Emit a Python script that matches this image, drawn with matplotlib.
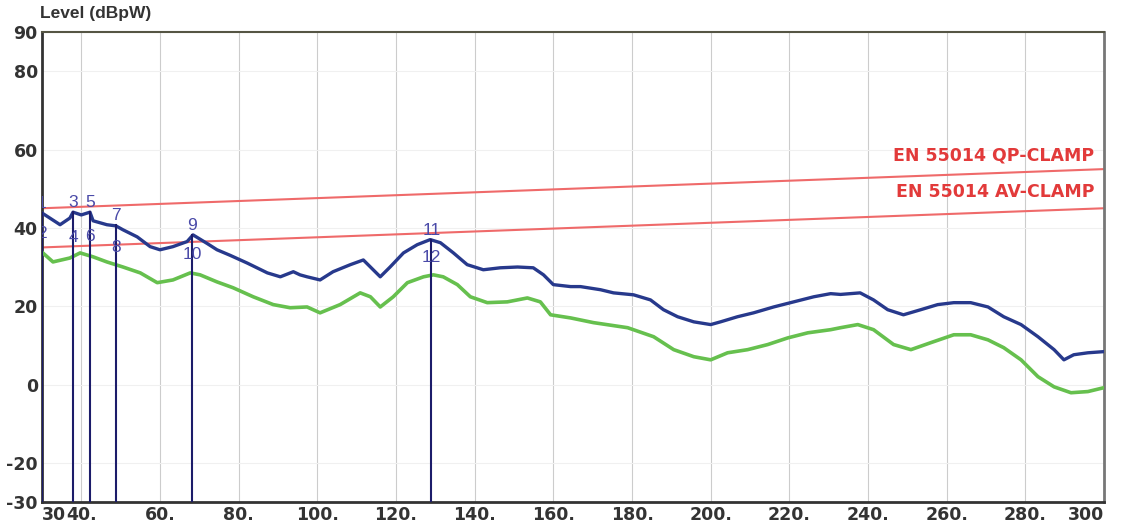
import matplotlib
matplotlib.use("Agg")
import matplotlib.pyplot as plt

plt.rcParams['font.family'] = ['Liberation Sans', 'DejaVu Sans']

# QP trace (blue)
qp_freq = [30, 32, 34.6, 37.1, 37.9, 40, 42.2, 43, 46.5, 48.8, 50.6, 54.2, 57.5, 60,
           63.3, 66.9, 68.4, 72, 74.5, 77.8, 82.2, 87.3, 90.6, 93.9, 95.6, 97.4,
           100.7, 104, 108.4, 111.7, 113.5, 116, 118.5, 121.9, 125.4, 128.7, 131.3,
           134.6, 138.1, 142.2, 146.5, 150.9, 154.9, 157.5, 160, 164.4, 166.9, 172,
           175.3, 180.4, 184.7, 188, 191.6, 195.7, 200, 202.5, 206.8, 210.9, 216,
           221.1, 226.2, 230.5, 233, 238, 241.4, 245, 249, 253.4, 257.7, 261.8,
           266.1, 270.5, 274.5, 278.9, 283.2, 287.3, 289.8, 292.3, 295.9, 300]
qp_level = [43.8, 42.5, 40.8, 42.5, 44, 43.3, 44, 41.8, 40.8, 40.5, 39.5, 37.7, 35.2, 34.4,
            35.2, 36.5, 38.2, 36, 34.4, 33, 31, 28.5, 27.5, 28.8, 28, 27.5,
            26.7, 28.8, 30.6, 31.8, 30, 27.5, 30, 33.6, 35.7, 37, 36.2,
            33.6, 30.6, 29.3, 29.8, 30, 29.8, 28, 25.5, 25, 25, 24.2,
            23.4, 22.9, 21.6, 19.1, 17.3, 16, 15.3, 16, 17.3, 18.3, 19.8,
            21.1, 22.4, 23.2, 23, 23.4, 21.6, 19.1, 17.8, 19.1, 20.4, 20.9,
            20.9, 19.8, 17.3, 15.3, 12.2, 8.9, 6.3, 7.6, 8.1, 8.4]

# AV trace (green)
av_freq = [30, 32.8, 37.1, 39.7, 43, 46.5, 50.6, 55, 59.3, 63.3, 67.7, 70.2, 74.5, 78.6,
           83.7, 88.8, 93.1, 97.4, 100.7, 105.8, 110.9, 113.5, 116, 119.3, 122.9, 127,
           129.5, 132, 135.6, 138.9, 143.2, 148.3, 153.4, 156.7, 159.3, 164.4, 170.2,
           178.9, 185.5, 190.6, 195.7, 200, 204.3, 209.4, 214.5, 219.6, 224.7, 230.5,
           233, 237.4, 241.4, 246.5, 250.9, 256, 261.8, 266.1, 270.5, 274.5, 278.9,
           283.2, 287.3, 291.6, 295.9, 300]
av_level = [33.8, 31.3, 32.3, 33.6, 32.6, 31.3, 30, 28.5, 26, 26.7, 28.5, 28, 26.2, 24.7,
            22.4, 20.4, 19.6, 19.8, 18.3, 20.4, 23.4, 22.4, 19.8, 22.4, 26, 27.5,
            28, 27.5, 25.5, 22.4, 20.9, 21.1, 22.1, 21.1, 17.8, 17, 15.8,
            14.5, 12.2, 8.9, 7.1, 6.3, 8.1, 8.9, 10.2, 11.9, 13.2, 14,
            14.5, 15.3, 14, 10.2, 8.9, 10.7, 12.7, 12.7, 11.4, 9.4, 6.3,
            2, -0.6, -2.1, -1.8, -0.8]

# limit lines (EN 55014 clamp)
lim_freq = [30, 300]
qp_limit = [45, 55]
av_limit = [35, 45]

# markers: frequency, QP level, AV level
mk_freq = [30, 37.9, 42.2, 48.8, 68.2, 129.0]
mk_qp = [43.8, 44, 44, 40.7, 38.2, 37]
mk_av = [34, 33, 33.3, 30.5, 28.7, 28]

xticks = [30, 40, 60, 80, 100, 120, 140, 160, 180, 200, 220, 240, 260, 280, 300]
xlabels = ["30", "40.", "60.", "80.", "100.", "120.", "140.", "160.", "180.", "200.",
           "220.", "240.", "260.", "280.", "300"]
yticks = [90, 80, 60, 40, 20, 0, -20, -30]

fig = plt.figure(figsize=(11.22, 5.31), dpi=100)
ax = fig.add_axes([0.0374, 0.0546, 0.9466, 0.8851])
ax.set_xlim(30, 300)
ax.set_ylim(-30, 90)

# grid
for f in range(40, 300, 20):
    ax.axvline(f, color="#cccccc", lw=0.8, zorder=0)
for v in [80, 60, 40, 20, 0, -20]:
    ax.axhline(v, color="#f0f0f0", lw=0.8, zorder=0)

# limit lines
ax.plot(lim_freq, qp_limit, color="#ef6a6a", lw=1.5, zorder=2)
ax.plot(lim_freq, av_limit, color="#ef6a6a", lw=1.5, zorder=2)
ax.text(297.5, 56.3, "EN 55014 QP-CLAMP", color="#e23a3a", fontsize=12.5,
        family="DejaVu Sans", fontweight="bold", ha="right", va="bottom")
ax.text(297.5, 46.8, "EN 55014 AV-CLAMP", color="#e23a3a", fontsize=12.5,
        family="DejaVu Sans", fontweight="bold", ha="right", va="bottom")

# traces
ax.plot(av_freq, av_level, color="#66c04e", lw=2.6, zorder=3)
ax.plot(qp_freq, qp_level, color="#27398c", lw=2.4, zorder=4)

# marker lines and numbers
for i in range(len(mk_freq)):
    ax.plot([mk_freq[i], mk_freq[i]], [-30, mk_qp[i]], color="#1c1c6a", lw=1.5, zorder=5)
    ax.text(mk_freq[i], mk_qp[i] + 0.5, str(2 * i + 1), color="#4a4aa8", fontsize=12.5,
            ha="center", va="bottom", zorder=6, clip_on=True)
    ax.text(mk_freq[i], mk_av[i] + 4.5, str(2 * i + 2), color="#4a4aa8", fontsize=12.5,
            ha="center", va="center", zorder=6, clip_on=True)

# axes styling
ax.set_xticks(xticks)
ax.set_xticklabels(xlabels)
ax.set_yticks(yticks)
ax.set_yticklabels([str(v) for v in yticks])
ax.tick_params(length=0, pad=3, labelcolor="#333333")
for lab in ax.get_xticklabels() + ax.get_yticklabels():
    lab.set_fontweight("bold")
    lab.set_family("DejaVu Sans")
    lab.set_fontsize(12.5)
xl = ax.get_xticklabels()
xl[0].set_horizontalalignment("left")
xl[-1].set_horizontalalignment("right")

ax.spines["left"].set_color("#333333")
ax.spines["left"].set_linewidth(2)
ax.spines["bottom"].set_color("#333333")
ax.spines["bottom"].set_linewidth(2)
ax.spines["top"].set_color("#555544")
ax.spines["top"].set_linewidth(1.5)
ax.spines["right"].set_color("#777777")
ax.spines["right"].set_linewidth(2)

fig.text(0.036, 0.988, "Level (dBpW)", fontsize=12.5, fontweight="bold",
         color="#333333", ha="left", va="top")

fig.savefig("out.png", dpi=100)
